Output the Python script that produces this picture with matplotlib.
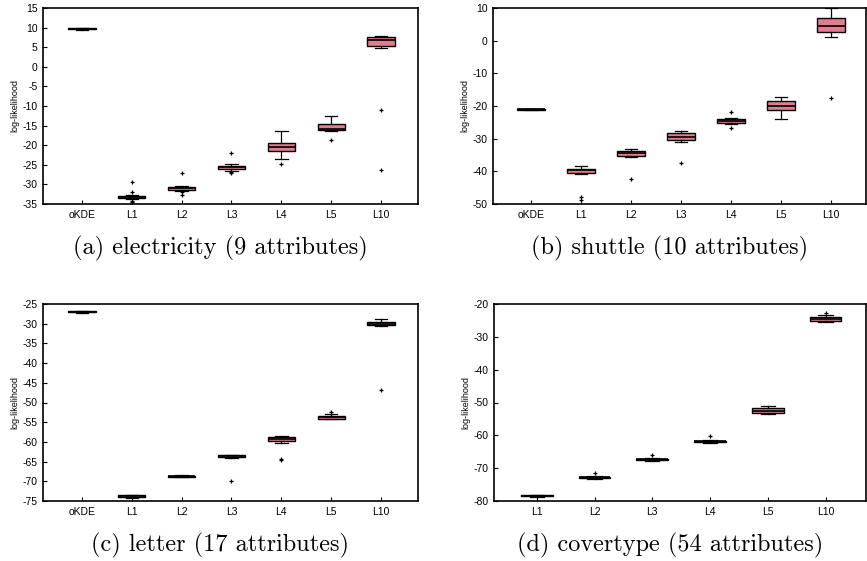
import matplotlib
matplotlib.use('Agg')
import matplotlib.pyplot as plt

plt.rcParams['font.family'] = ['Liberation Sans', 'DejaVu Sans']
plt.rcParams['axes.unicode_minus'] = False

# category labels
labels_full = ['oKDE', 'L1', 'L2', 'L3', 'L4', 'L5', 'L10']
labels_cov = ['L1', 'L2', 'L3', 'L4', 'L5', 'L10']

# (a) electricity: whislo, q1, med, q3, whishi, fliers
elec_whislo = [9.5, -33.8, -31.6, -26.6, -23.6, -16.3, 4.9]
elec_q1 = [9.6, -33.5, -31.4, -26.1, -21.6, -16.1, 5.2]
elec_med = [9.7, -33.2, -31.0, -25.6, -20.35, -15.9, 6.9]
elec_q3 = [9.8, -32.9, -30.7, -25.3, -19.5, -14.6, 7.5]
elec_whishi = [10.0, -32.7, -30.4, -24.7, -16.4, -12.6, 7.8]
elec_fliers = [[], [-29.3, -32.0, -34.3, -34.6], [-27.2, -32.0, -32.7],
               [-22.0, -26.8, -27.2], [-24.7], [-18.7], [-10.9, -26.3]]

# (b) shuttle
shut_whislo = [-21.3, -40.9, -35.6, -30.9, -25.4, -24.1, 1.05]
shut_q1 = [-21.2, -40.5, -35.2, -30.5, -25.2, -21.3, 2.6]
shut_med = [-21.05, -39.7, -34.5, -29.4, -24.6, -20.1, 4.4]
shut_q3 = [-20.9, -39.2, -33.8, -28.2, -23.9, -18.4, 7.0]
shut_whishi = [-20.8, -38.3, -33.2, -27.6, -23.7, -17.3, 10.0]
shut_fliers = [[], [-47.9, -48.8], [-42.2], [-37.3], [-21.9, -26.8], [],
               [-17.6]]

# (c) letter
lett_whislo = [-27.2, -74.3, -69.0, -64.0, -60.2, -54.3, -30.6]
lett_q1 = [-27.1, -74.0, -68.9, -63.9, -59.8, -54.1, -30.3]
lett_med = [-27.0, -73.8, -68.75, -63.6, -59.3, -53.8, -30.0]
lett_q3 = [-26.9, -73.6, -68.6, -63.4, -58.8, -53.4, -29.6]
lett_whishi = [-26.8, -73.5, -68.4, -63.2, -58.5, -53.0, -28.9]
lett_fliers = [[], [], [], [-69.9], [-64.3, -64.6], [-52.4], [-46.9]]

# (d) covertype
cov_whislo = [-78.8, -73.2, -67.8, -62.3, -53.6, -25.4]
cov_q1 = [-78.6, -73.0, -67.6, -62.1, -53.3, -25.2]
cov_med = [-78.5, -72.8, -67.35, -61.8, -52.6, -24.6]
cov_q3 = [-78.3, -72.6, -67.1, -61.6, -51.6, -24.1]
cov_whishi = [-78.1, -72.5, -66.9, -61.5, -51.2, -23.3]
cov_fliers = [[], [-71.4], [-65.9], [-60.1], [], [-22.8]]


def make_stats(whislo, q1, med, q3, whishi, fliers):
    stats = []
    for i in range(len(med)):
        stats.append(dict(whislo=whislo[i], q1=q1[i], med=med[i], q3=q3[i],
                          whishi=whishi[i], fliers=fliers[i]))
    return stats


def draw_panel(ax, stats, labels, ylim, yticks, xlim, caption):
    ax.bxp(stats, positions=range(1, len(stats) + 1), widths=0.55,
           patch_artist=True, showfliers=True,
           boxprops=dict(facecolor='#e07d8e', edgecolor='black',
                         linewidth=1.0),
           medianprops=dict(color='black', linewidth=1.2),
           whiskerprops=dict(color='black', linewidth=0.9),
           capprops=dict(color='black', linewidth=0.9),
           capwidths=0.25,
           flierprops=dict(marker='+', markersize=3.5,
                           markeredgecolor='black', markeredgewidth=0.9))
    ax.set_xticks(range(1, len(labels) + 1))
    ax.set_xticklabels(labels)
    ax.set_xlim(*xlim)
    ax.set_ylim(*ylim)
    ax.set_yticks(yticks)
    ax.tick_params(direction='in', length=3, labelsize=7.5, pad=4,
                   top=False, right=False)
    for s in ax.spines.values():
        s.set_linewidth(1.2)
    ax.set_ylabel('log-likelihood', fontsize=6.5, labelpad=2)
    # caption sits a little left of the axes centre
    ax.text(0.473, -0.225, caption, transform=ax.transAxes, ha='center',
            va='center', fontsize=17.5, family='cmr10')


fig = plt.figure(figsize=(8.67, 5.61), dpi=100)
W, H = 867, 561
ax_a = fig.add_axes([43 / W, 1 - 204 / H, 375 / W, 196 / H])
ax_b = fig.add_axes([493 / W, 1 - 204 / H, 373 / W, 196 / H])
ax_c = fig.add_axes([43 / W, 1 - 501 / H, 375 / W, 197 / H])
ax_d = fig.add_axes([494 / W, 1 - 501 / H, 372 / W, 197 / H])

draw_panel(ax_a, make_stats(elec_whislo, elec_q1, elec_med, elec_q3,
                            elec_whishi, elec_fliers),
           labels_full, (-35, 15), range(-35, 16, 5), (0.22, 7.74),
           '(a) electricity (9 attributes)')
draw_panel(ax_b, make_stats(shut_whislo, shut_q1, shut_med, shut_q3,
                            shut_whishi, shut_fliers),
           labels_full, (-50, 10), range(-50, 11, 10), (0.24, 7.7),
           '(b) shuttle (10 attributes)')
draw_panel(ax_c, make_stats(lett_whislo, lett_q1, lett_med, lett_q3,
                            lett_whishi, lett_fliers),
           labels_full, (-75, -25), range(-75, -24, 5), (0.22, 7.74),
           '(c) letter (17 attributes)')
draw_panel(ax_d, make_stats(cov_whislo, cov_q1, cov_med, cov_q3,
                            cov_whishi, cov_fliers),
           labels_cov, (-80, -20), range(-80, -19, 10), (0.26, 6.7),
           '(d) covertype (54 attributes)')

fig.savefig('out.png', dpi=100)
